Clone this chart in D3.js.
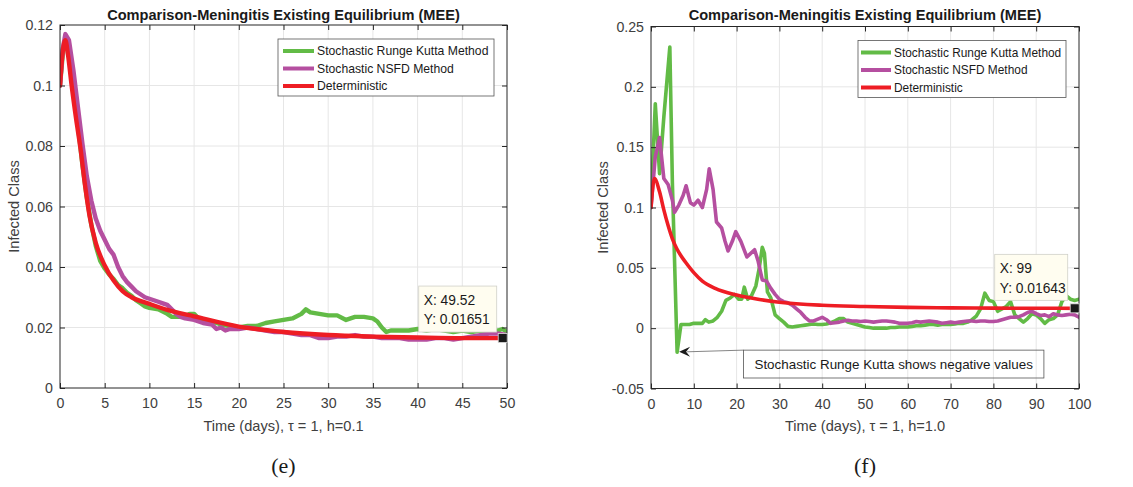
<!DOCTYPE html>
<html>
<head>
<meta charset="utf-8">
<script src="https://cdn.jsdelivr.net/npm/d3@7"></script>
<style>
  body { margin: 0; background: #fff; }
  text { font-family: "Liberation Sans", Arial, sans-serif; }
</style>
</head>
<body>
<svg id="fig" width="1133" height="487"></svg>
<script>
// ---- panel (e): h = 0.1 ----
var eXTicks = [0, 5, 10, 15, 20, 25, 30, 35, 40, 45, 50];
var eYTicks = [0, 0.02, 0.04, 0.06, 0.08, 0.1, 0.12];

var eRkTime = [0, 0.3, 0.6, 1, 1.5, 2, 2.5, 3, 3.5, 4, 4.5, 5, 5.5, 6, 6.5, 7, 7.5, 8, 8.5, 9, 9.5, 10, 11, 12, 12.5, 13, 14, 14.5, 15, 15.5, 16, 17, 18, 19, 20, 21, 22, 22.5, 23, 24, 25, 26, 27, 27.5, 28, 29, 30, 31, 32, 33, 34, 35, 35.5, 36, 36.5, 37, 38, 39, 40, 41, 42, 43, 44, 45, 46, 47, 48, 49, 49.5, 50];
var eRkValue = [0.100, 0.110, 0.115, 0.112, 0.100, 0.087, 0.074, 0.063, 0.054, 0.047, 0.042, 0.0395, 0.0375, 0.036, 0.034, 0.033, 0.0315, 0.0305, 0.029, 0.028, 0.027, 0.0265, 0.026, 0.0245, 0.0235, 0.0235, 0.0235, 0.0245, 0.0245, 0.023, 0.022, 0.022, 0.021, 0.0205, 0.020, 0.0205, 0.0205, 0.021, 0.0215, 0.022, 0.0225, 0.023, 0.0245, 0.026, 0.025, 0.0245, 0.024, 0.024, 0.0225, 0.0235, 0.0235, 0.023, 0.022, 0.020, 0.0185, 0.019, 0.019, 0.019, 0.0195, 0.019, 0.0195, 0.019, 0.0185, 0.019, 0.0185, 0.019, 0.0185, 0.019, 0.0195, 0.0185];

var eNsfdTime = [0, 0.3, 0.6, 1, 1.5, 2, 2.5, 3, 3.5, 4, 4.5, 5, 5.5, 6, 6.5, 7, 7.5, 8, 8.5, 9, 9.5, 10, 10.5, 11, 11.5, 12, 12.5, 13, 13.5, 14, 15, 16, 17, 17.5, 18, 18.5, 19, 20, 21, 22, 23, 24, 25, 26, 27, 28, 29, 30, 31, 32, 33, 34, 35, 36, 37, 38, 39, 40, 41, 42, 43, 44, 45, 46, 47, 48, 49, 50];
var eNsfdValue = [0.100, 0.112, 0.117, 0.115, 0.105, 0.093, 0.081, 0.070, 0.062, 0.056, 0.052, 0.049, 0.046, 0.044, 0.040, 0.037, 0.035, 0.0335, 0.032, 0.031, 0.030, 0.0295, 0.029, 0.0285, 0.028, 0.0275, 0.026, 0.0245, 0.0235, 0.023, 0.0225, 0.0215, 0.021, 0.0195, 0.020, 0.019, 0.0195, 0.0195, 0.020, 0.0195, 0.019, 0.0185, 0.0185, 0.018, 0.0175, 0.0175, 0.0165, 0.0165, 0.017, 0.017, 0.0175, 0.017, 0.017, 0.0165, 0.0165, 0.0165, 0.016, 0.016, 0.016, 0.0165, 0.0165, 0.016, 0.0165, 0.017, 0.0175, 0.018, 0.018, 0.0175];

var eDetTime = [0, 0.3, 0.6, 0.9, 1.3, 1.8, 2.3, 2.8, 3.3, 4, 5, 6, 7, 8, 10, 12, 15, 20, 25, 30, 35, 40, 45, 50];
var eDetValue = [0.100, 0.111, 0.115, 0.110, 0.100, 0.089, 0.079, 0.067, 0.057, 0.048, 0.0405, 0.0355, 0.032, 0.030, 0.0278, 0.0258, 0.0237, 0.0203, 0.0185, 0.0175, 0.017, 0.0167, 0.0165, 0.0165];

// ---- panel (f): h = 1.0 ----
var fXTicks = [0, 10, 20, 30, 40, 50, 60, 70, 80, 90, 100];
var fYTicks = [-0.05, 0, 0.05, 0.1, 0.15, 0.2, 0.25];

var fRkTime = [0, 1, 2, 3, 4.4, 5, 6.1, 7, 8, 9, 10, 11, 12, 12.7, 13.5, 14.5, 15.5, 16.5, 17.5, 18.5, 19.5, 20.5, 21.2, 21.8, 22.6, 23.5, 24.5, 25.3, 26, 26.5, 27.2, 28, 29, 30, 31, 32, 33, 34, 35, 36, 37, 38, 39, 40, 41, 42, 43, 44, 45, 46, 47, 48, 49, 50, 51, 52, 53, 54, 55, 56, 57, 58, 59, 60, 61, 62, 63, 64, 65, 66, 67, 68, 69, 70, 71, 72, 73, 74, 75, 76, 77, 78, 79, 80, 81, 82, 83, 84, 85, 86, 87, 88, 89, 90, 91, 92, 93, 94, 95, 96, 97, 98, 99, 100];
var fRkValue = [0.100, 0.186, 0.128, 0.175, 0.233, 0.120, -0.020, 0.003, 0.003, 0.003, 0.004, 0.004, 0.004, 0.007, 0.005, 0.006, 0.009, 0.014, 0.023, 0.025, 0.028, 0.024, 0.024, 0.034, 0.024, 0.027, 0.035, 0.050, 0.067, 0.062, 0.030, 0.025, 0.011, 0.008, 0.005, 0.0015, 0.001, 0.0015, 0.002, 0.0025, 0.003, 0.0035, 0.003, 0.003, 0.0035, 0.0045, 0.006, 0.008, 0.008, 0.005, 0.004, 0.003, 0.002, 0.001, 0.0005, 0, 0, 0, 0, 0.0005, 0.0005, 0.001, 0.001, 0.001, 0.0015, 0.002, 0.002, 0.0025, 0.003, 0.003, 0.0025, 0.003, 0.003, 0.003, 0.0035, 0.004, 0.004, 0.005, 0.007, 0.010, 0.016, 0.029, 0.023, 0.022, 0.014, 0.016, 0.018, 0.022, 0.011, 0.008, 0.005, 0.008, 0.012, 0.011, 0.008, 0.004, 0.007, 0.008, 0.011, 0.022, 0.027, 0.024, 0.023, 0.024];

var fNsfdTime = [0, 1, 2, 3, 4, 5, 5.5, 6.5, 7.5, 8.2, 9.2, 10, 11, 12, 13, 13.6, 14.5, 15.3, 16.5, 17.3, 18, 19, 19.8, 21, 22.4, 23.3, 24.2, 25, 26, 27, 28, 29, 30, 31, 32, 33, 34, 35, 36, 37, 38, 39, 40, 41, 42, 43, 44, 45, 46, 47, 48, 49, 50, 51, 52, 53, 54, 55, 56, 57, 58, 59, 60, 61, 62, 63, 64, 65, 66, 67, 68, 69, 70, 71, 72, 73, 74, 75, 76, 77, 78, 79, 80, 81, 82, 83, 84, 85, 86, 87, 88, 89, 90, 91, 92, 93, 94, 95, 96, 97, 98, 99, 100];
var fNsfdValue = [0.100, 0.142, 0.158, 0.124, 0.119, 0.106, 0.096, 0.102, 0.110, 0.118, 0.104, 0.102, 0.106, 0.100, 0.115, 0.132, 0.115, 0.088, 0.083, 0.072, 0.064, 0.072, 0.080, 0.072, 0.059, 0.062, 0.065, 0.056, 0.040, 0.039, 0.033, 0.028, 0.024, 0.022, 0.021, 0.019, 0.016, 0.013, 0.009, 0.006, 0.006, 0.0075, 0.009, 0.007, 0.004, 0.0045, 0.005, 0.006, 0.0065, 0.006, 0.006, 0.0055, 0.006, 0.0055, 0.005, 0.0055, 0.006, 0.006, 0.0055, 0.005, 0.004, 0.004, 0.004, 0.0045, 0.0055, 0.005, 0.0055, 0.006, 0.0055, 0.005, 0.004, 0.0045, 0.005, 0.0045, 0.005, 0.0055, 0.006, 0.006, 0.0055, 0.006, 0.006, 0.0055, 0.0055, 0.006, 0.007, 0.008, 0.009, 0.009, 0.0095, 0.011, 0.013, 0.014, 0.012, 0.0105, 0.011, 0.0095, 0.012, 0.011, 0.0105, 0.011, 0.0115, 0.011, 0.009];

var fDetTime = [0, 0.8, 2, 3, 4, 5, 6, 7, 8, 10, 12, 15, 20, 25, 30, 40, 50, 60, 70, 80, 90, 100];
var fDetValue = [0.100, 0.124, 0.113, 0.098, 0.085, 0.074, 0.066, 0.060, 0.055, 0.046, 0.039, 0.033, 0.0275, 0.024, 0.0215, 0.019, 0.018, 0.0172, 0.0168, 0.0166, 0.0165, 0.0164];

var legendNames = ['Stochastic Runge Kutta Method', 'Stochastic NSFD Method', 'Deterministic'];
var colors = ['#62bb46', '#b54fa0', '#ee1d24'];
var titleText = 'Comparison-Meningitis Existing Equilibrium (MEE)';

var svg = d3.select('#fig');
var zip = function(ts, vs) { return ts.map(function(t, i) { return [t, vs[i]]; }); };

var panels = [
  { id: 'e', left: 60, right: 507, top: 25, bottom: 388, xDomain: [0, 50], yDomain: [0, 0.12],
    xTicks: eXTicks, yTicks: eYTicks, xLabel: 'Time (days), \u03c4 = 1, h=0.1', lw: 4.4, yLabelX: 14,
    legend: { w: 216, line0: 5, line1: 36, text: 39, font: 12.2 },
    series: [zip(eRkTime, eRkValue), zip(eNsfdTime, eNsfdValue), zip(eDetTime, eDetValue)],
    tip: { x: 49.52, y: 0.01651, lines: ['X: 49.52', 'Y: 0.01651'], w: 78, dx: -6, dy: -6 } },
  { id: 'f', left: 651, right: 1079, top: 26.5, bottom: 388.5, xDomain: [0, 100], yDomain: [-0.05, 0.25],
    xTicks: fXTicks, yTicks: fYTicks, xLabel: 'Time (days), \u03c4 = 1, h=1.0', lw: 3.6, yLabelX: 603,
    legend: { w: 208, line0: 3, line1: 33, text: 36, font: 11.9 },
    series: [zip(fRkTime, fRkValue), zip(fNsfdTime, fNsfdValue), zip(fDetTime, fDetValue)],
    tip: { x: 99, y: 0.01643, lines: ['X: 99', 'Y: 0.01643'], w: 73, dx: -7, dy: -8 },
    note: { text: 'Stochastic Runge Kutta shows negative values', tipX: 6.1, tipY: -0.02, boxX: 21.6, boxY: -0.0182, boxX2: 91.8, boxY2: -0.0413 } }
];

var fmt = function(d) { return String(+d.toFixed(2)); };

panels.forEach(function(p) {
  var g = svg.append('g');
  var x = d3.scaleLinear().domain(p.xDomain).range([p.left, p.right]);
  var y = d3.scaleLinear().domain(p.yDomain).range([p.bottom, p.top]);

  // grid
  g.append('g').selectAll('line').data(p.xTicks.slice(1, -1)).enter().append('line')
    .attr('x1', function(d) { return x(d); }).attr('x2', function(d) { return x(d); })
    .attr('y1', p.top).attr('y2', p.bottom).attr('stroke', '#e6e6e6');
  g.append('g').selectAll('line').data(p.yTicks.slice(1, -1)).enter().append('line')
    .attr('y1', function(d) { return y(d); }).attr('y2', function(d) { return y(d); })
    .attr('x1', p.left).attr('x2', p.right).attr('stroke', '#e6e6e6');

  // clip
  svg.append('clipPath').attr('id', 'clip-' + p.id).append('rect')
    .attr('x', p.left).attr('y', p.top).attr('width', p.right - p.left).attr('height', p.bottom - p.top);

  var line = d3.line().x(function(d) { return x(d[0]); }).y(function(d) { return y(d[1]); });
  var smooth = d3.line().curve(d3.curveMonotoneX).x(function(d) { return x(d[0]); }).y(function(d) { return y(d[1]); });
  var lines = g.append('g').attr('clip-path', 'url(#clip-' + p.id + ')');
  p.series.forEach(function(s, i) {
    lines.append('path').datum(s)
      .attr('d', i === 2 ? smooth : line)
      .attr('fill', 'none').attr('stroke', colors[i])
      .attr('stroke-width', p.lw).attr('stroke-linejoin', 'round').attr('stroke-linecap', 'round');
  });

  // axes
  var axCol = '#262626';
  var bottom = g.append('g').attr('transform', 'translate(0,' + p.bottom + ')')
    .call(d3.axisBottom(x).tickValues(p.xTicks).tickSize(-5).tickPadding(10).tickFormat(fmt));
  var left = g.append('g').attr('transform', 'translate(' + p.left + ',0)')
    .call(d3.axisLeft(y).tickValues(p.yTicks).tickSize(-5).tickPadding(7).tickFormat(fmt));
  var top = g.append('g').attr('transform', 'translate(0,' + p.top + ')')
    .call(d3.axisTop(x).tickValues(p.xTicks).tickSize(-5).tickFormat(''));
  var right = g.append('g').attr('transform', 'translate(' + p.right + ',0)')
    .call(d3.axisRight(y).tickValues(p.yTicks).tickSize(-5).tickFormat(''));
  [bottom, left, top, right].forEach(function(a) {
    a.select('.domain').remove();
    a.selectAll('line').attr('stroke', axCol);
    a.selectAll('text').attr('fill', '#404040').style('font-size', '14.2px')
      .style('font-family', '"Liberation Sans", Arial, sans-serif');
  });
  g.append('rect').attr('x', p.left).attr('y', p.top)
    .attr('width', p.right - p.left).attr('height', p.bottom - p.top)
    .attr('fill', 'none').attr('stroke', axCol).attr('stroke-width', 1);

  // title & labels
  var cx = (p.left + p.right) / 2;
  g.append('text').attr('x', cx).attr('y', 20).attr('text-anchor', 'middle')
    .style('font-size', '14.6px').style('font-weight', 'bold').attr('fill', '#1a1a1a').text(titleText);
  g.append('text').attr('x', cx).attr('y', 431).attr('text-anchor', 'middle')
    .style('font-size', '14.6px').attr('fill', '#404040').text(p.xLabel);
  g.append('text').attr('transform', 'translate(' + p.yLabelX + ',' + ((p.top + p.bottom) / 2) + ') rotate(-90)')
    .attr('text-anchor', 'middle').attr('dy', '0.35em')
    .style('font-size', '14.6px').attr('fill', '#404040').text('Infected Class');
  g.append('text').attr('x', cx).attr('y', 473).attr('text-anchor', 'middle')
    .style('font-family', '"Liberation Serif", "Times New Roman", serif').style('font-size', '22px')
    .attr('fill', '#1a1a1a').text('(' + p.id + ')');

  // legend
  var L = p.legend;
  var lx = p.right - 13 - L.w, ly = p.top + 14;
  var leg = g.append('g');
  leg.append('rect').attr('x', lx).attr('y', ly).attr('width', L.w).attr('height', 57)
    .attr('fill', '#fff').attr('stroke', '#555').attr('stroke-width', 0.8);
  legendNames.forEach(function(n, i) {
    var yy = ly + 12 + i * 17.5;
    leg.append('line').attr('x1', lx + L.line0).attr('x2', lx + L.line1).attr('y1', yy).attr('y2', yy)
      .attr('stroke', colors[i]).attr('stroke-width', 4);
    leg.append('text').attr('x', lx + L.text).attr('y', yy).attr('dy', '0.35em')
      .style('font-size', L.font + 'px').attr('fill', '#1a1a1a').text(n);
  });

  // annotation
  if (p.note) {
    var n = p.note;
    var bx = x(n.boxX), by = y(n.boxY), bx2 = x(n.boxX2), by2 = y(n.boxY2);
    g.append('rect').attr('x', bx).attr('y', by).attr('width', bx2 - bx).attr('height', by2 - by)
      .attr('fill', 'none').attr('stroke', '#555').attr('stroke-width', 0.8);
    g.append('text').attr('x', (bx + bx2) / 2).attr('y', (by + by2) / 2).attr('dy', '0.35em')
      .attr('text-anchor', 'middle').style('font-size', '13.4px').attr('fill', '#1a1a1a').text(n.text);
    var tx = x(n.tipX) + 2, ty = y(n.tipY) - 0.5;
    g.append('line').attr('x1', bx).attr('y1', by).attr('x2', tx + 8).attr('y2', ty)
      .attr('stroke', '#666').attr('stroke-width', 0.8);
    g.append('path')
      .attr('d', 'M' + tx + ',' + ty + 'L' + (tx + 11) + ',' + (ty - 5) + 'L' + (tx + 7) + ',' + ty + 'L' + (tx + 11) + ',' + (ty + 5) + 'Z')
      .attr('fill', '#1a1a1a');
  }

  // data tip
  var t = p.tip, mx = x(t.x), my = y(t.y);
  var tb = g.append('g');
  tb.append('rect').attr('x', mx + t.dx - t.w).attr('y', my + t.dy - 46).attr('width', t.w).attr('height', 46)
    .attr('fill', '#fffdf0').attr('stroke', '#d0d0c8').attr('stroke-width', 0.8);
  t.lines.forEach(function(s, i) {
    tb.append('text').attr('x', mx + t.dx - t.w + 5).attr('y', my + t.dy - 46 + 14 + i * 19.5).attr('dy', '0.35em')
      .style('font-size', '13.8px').attr('fill', '#1a1a1a').text(s);
  });
  tb.append('rect').attr('x', mx - 4.5).attr('y', my - 4.5).attr('width', 9).attr('height', 9)
    .attr('fill', '#1a1a1a').attr('stroke', '#ddd').attr('stroke-width', 0.8);
});
</script>
</body>
</html>
